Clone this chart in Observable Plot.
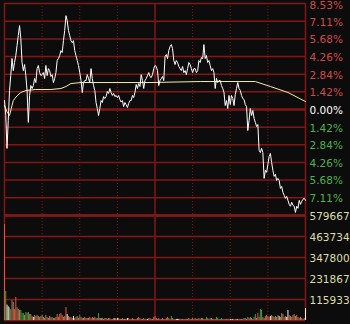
<!DOCTYPE html>
<html><head><meta charset="utf-8">
<script src="https://cdn.jsdelivr.net/npm/d3@7"></script>
<script src="https://cdn.jsdelivr.net/npm/@observablehq/plot@0.6"></script>
<style>
html,body{margin:0;padding:0;background:#0c0c0c;}
#c{position:relative;width:350px;height:324px;overflow:hidden;background:#0c0c0c;}
#c svg{position:absolute;left:0;}
</style></head><body><div id="c"></div>
<script>
// price change (%) per trading minute, 0..240
const pct = [
0.72,-0.48,-3.13,-0.88,1.53,2.73,4.10,3.13,3.78,4.34,
5.14,5.95,6.75,5.71,3.78,3.13,3.62,2.73,1.53,-1.04,
1.13,1.93,1.69,1.93,2.49,2.17,3.29,3.54,2.97,2.73,
2.81,2.97,2.49,3.54,2.73,3.29,3.13,2.65,2.81,2.17,
2.49,2.97,3.94,4.10,4.34,4.74,4.58,5.54,6.35,7.55,
7.15,6.35,5.95,5.54,5.38,5.54,4.74,4.34,3.94,3.54,
2.97,2.33,1.37,2.17,2.33,2.33,2.81,2.49,2.17,3.29,
2.49,1.93,1.53,0.56,0.08,-0.48,0.08,0.72,0.56,1.04,
0.88,1.04,1.45,1.29,1.69,1.37,1.13,1.29,1.04,1.13,
0.96,1.13,0.80,0.60,0.72,0.24,0.56,0.40,0.16,0.48,
0.72,0.72,1.13,0.96,1.37,2.01,1.69,2.09,1.85,2.81,
2.33,1.69,2.33,2.49,2.73,2.97,2.65,2.57,2.81,3.29,
3.54,3.46,3.13,1.93,2.33,2.49,2.65,2.33,4.26,4.42,
4.10,4.74,5.06,5.22,4.90,3.94,3.62,3.94,3.78,3.46,
3.29,3.13,3.46,2.97,3.13,2.81,3.29,3.78,3.62,3.29,
2.97,3.29,3.29,2.97,3.13,3.94,3.78,4.18,4.10,5.22,
4.10,4.34,3.78,3.94,3.54,3.13,3.29,2.97,1.69,2.49,
2.17,2.33,2.33,1.93,1.69,1.37,0.32,0.72,0.08,1.13,
0.40,1.13,0.88,0.32,1.21,1.69,2.17,1.69,1.53,1.13,
0.88,0.80,0.40,0.24,-1.69,-0.88,0.08,-0.48,-0.08,-0.72,
-1.04,-1.37,-1.21,-3.29,-3.46,-3.13,-3.46,-5.54,-4.90,-5.06,
-4.42,-3.78,-3.54,-4.26,-4.90,-5.38,-5.22,-5.71,-5.54,-5.71,
-6.35,-6.19,-6.67,-6.91,-7.15,-6.99,-7.31,-7.63,-7.79,-7.47,
-7.71,-7.79,-8.28,-7.79,-7.95,-7.31,-7.63,-7.39,-7.23,-7.15,-7.31
];
// average price line, read at selected minutes
const avgMinute = [0,2,4,7,10,13,17,25,37,45,49,53,61,116,156,200,212,226,240];
const avgPct = [0.32,-0.20,-0.48,0.72,1.10,1.37,1.53,1.61,1.61,1.69,1.85,2.09,2.17,2.17,2.25,2.25,1.85,1.37,0.64];
// volume per minute (thousands of shares)
const vol = [
530,160,85,75,70,60,110,100,60,127,
70,60,55,55,40,38,28,44,40,44,
33,33,22,17,28,22,28,22,17,22,
28,17,11,28,17,11,22,17,17,11,
11,17,33,17,33,38,28,17,22,72,
33,22,17,17,11,22,11,17,22,11,
28,17,11,11,17,11,11,11,17,11,
17,11,17,11,11,38,11,11,11,6,
11,11,6,11,11,6,6,11,11,6,
11,11,6,6,11,6,6,6,11,11,
6,6,11,6,6,6,11,17,11,6,
6,11,6,6,6,11,11,6,6,17,
22,11,6,11,6,6,11,6,6,11,
17,11,6,22,11,6,6,6,6,6,
6,6,6,6,6,6,6,11,6,6,
11,6,11,6,6,11,6,11,11,6,
6,17,11,6,11,11,6,6,6,17,
11,6,6,11,6,6,6,6,6,6,
6,6,6,6,6,6,6,6,6,6,
6,11,11,6,17,11,17,11,6,17,
33,11,38,17,60,55,17,11,22,28,
22,17,22,28,22,17,22,17,28,22,
17,38,33,17,22,17,55,28,22,17,
28,33,22,28,17,11,17,11,6,11,66
];
// bar colour code per minute: r up, g down, w flat, t mixed
const volKind = "rgwwgtttrr"+"tttgggtggt"+"gttwtttttg"+"ttttgtttgt"+"ttttrrrttr"+"wttttwtttt"+"gtttttttrr"+"tttttgtwtt"+"ttttttttwt"+"wttwttwtwr"+"tttttttrrt"+"ttttwtrttr"+"rttttttttt"+"rrtggttwww"+"tttttttttt"+"tttttttttt"+"tggttttttg"+"gttggttgtt"+"wtwtttwttt"+"ttgtgttttg"+"gtrtggtttr"+"ttwtttttgw"+"tttttwwttt"+"ttttttttttw";

const pctTicks = [8.53,7.11,5.68,4.26,2.84,1.42,0,-1.42,-2.84,-4.26,-5.68,-7.11,-8.53];
const pctLabels = ["8.53%","7.11%","5.68%","4.26%","2.84%","1.42%","0.00%","1.42%","2.84%","4.26%","5.68%","7.11%"];
const volTicks = [579.667,463.734,347.8,231.867,115.933,0];
const volLabels = ["579667","463734","347800","231867","115933"];
const solidMinutes = [0,120,240];
const dottedMinutes = [30,60,90,150,180,210];

const GRID = "#841616";
const kindColor = {r:"#e0553f", g:"#3f9f3a", w:"#eeeeee", t:"#b8794e"};
const style = {background:"transparent", fontFamily:"'DejaVu Sans', sans-serif", fontSize:"10.5px", overflow:"visible"};

const priceData = pct.map((p,i)=>({m:i,p}));
const avgData = avgMinute.map((m,i)=>({m,p:avgPct[i]}));
const volData = vol.map((v,i)=>({m:i,v,k:volKind[i]}));
const labelData = pctLabels.map((s,i)=>({t:pctTicks[i], s}));

const topPlot = Plot.plot({
  width:350, height:216, marginLeft:4, marginRight:45, marginTop:3, marginBottom:1,
  x:{domain:[0,240], axis:null}, y:{domain:[-8.53,8.53], axis:null},
  style,
  marks:[
    Plot.ruleY(pctTicks.filter(t=>t!==0 && t!==-8.53), {stroke:GRID, strokeWidth:1.5}),
    Plot.ruleY([0,-8.53], {stroke:GRID, strokeWidth:2.5}),
    Plot.ruleX(dottedMinutes, {stroke:GRID, strokeWidth:1, strokeDasharray:"1,2"}),
    Plot.ruleX(solidMinutes, {stroke:GRID, strokeWidth:1.5}),
    Plot.line(avgData, {x:"m", y:"p", stroke:"#f0f0a0", strokeWidth:1}),
    Plot.line(priceData, {x:"m", y:"p", stroke:"#ffffff", strokeWidth:1}),
    Plot.text(labelData.filter(d=>d.t>8), {x:()=>240, y:"t", text:"s", fill:"#d04a4a", textAnchor:"start", dx:4, dy:2.5}),
    Plot.text(labelData.filter(d=>d.t>0 && d.t<8), {x:()=>240, y:"t", text:"s", fill:"#d04a4a", textAnchor:"start", dx:4, dy:1}),
    Plot.text(labelData.filter(d=>d.t===0), {x:()=>240, y:"t", text:"s", fill:"#ffffff", textAnchor:"start", dx:4, dy:1}),
    Plot.text(labelData.filter(d=>d.t<0), {x:()=>240, y:"t", text:"s", fill:"#4fb04f", textAnchor:"start", dx:4, dy:1})
  ]
});
topPlot.style.top = "0px";

const volLabelData = volLabels.map((s,i)=>({t:volTicks[i], s}));
const botPlot = Plot.plot({
  width:350, height:114, marginLeft:4, marginRight:45, marginTop:5, marginBottom:4,
  x:{domain:[0,240], axis:null}, y:{domain:[0,579.667], axis:null},
  style,
  marks:[
    Plot.ruleY(volTicks.slice(1), {stroke:GRID, strokeWidth:1.5}),
    Plot.ruleY(volTicks.slice(0,1), {stroke:GRID, strokeWidth:2.5}),
    Plot.ruleX(dottedMinutes, {stroke:GRID, strokeWidth:1, strokeDasharray:"1,2"}),
    Plot.ruleX(solidMinutes, {stroke:GRID, strokeWidth:1.5}),
    ...Object.keys(kindColor).map(k => Plot.ruleX(volData.filter(d=>d.k===k), {x:"m", y1:0, y2:"v", stroke:kindColor[k], strokeWidth:1})),
    Plot.text(volLabelData, {x:()=>240, y:"t", text:"s", fill:"#dcdcaa", textAnchor:"start", dx:4, dy:1})
  ]
});
botPlot.style.top = "210px";

const c = document.getElementById("c");
c.appendChild(topPlot);
c.appendChild(botPlot);
</script></body></html>
